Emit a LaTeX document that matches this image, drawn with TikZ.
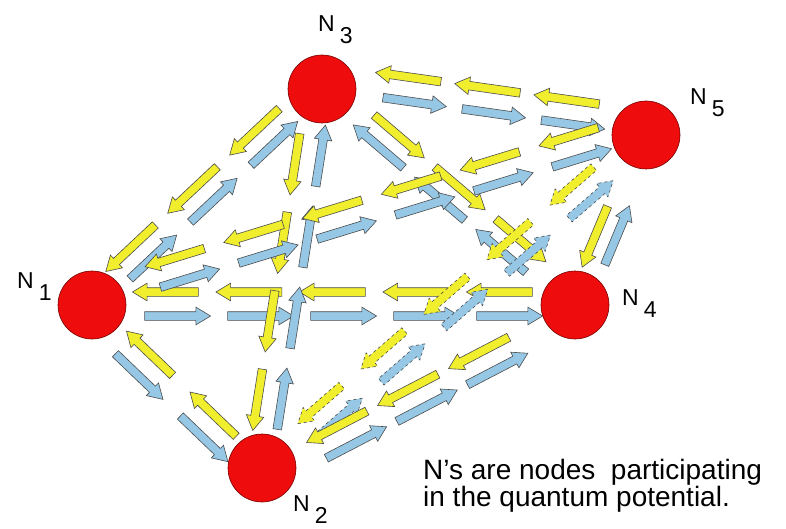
\documentclass[tikz,border=0pt]{standalone}
\usepackage{fontspec}
\setmainfont{Liberation Sans}
\usetikzlibrary{calc, shapes.arrows}

\definecolor{flowyellow}{RGB}{240,238,45}
\definecolor{flowblue}{RGB}{150,200,230}
\definecolor{nodered}{RGB}{238,12,12}

\pgfdeclarelayer{back}
\pgfsetlayers{back,main}

\tikzset{
  qnode/.style={circle, fill=nodered, draw=red!45!black, line width=0.6pt,
    minimum size=68pt, inner sep=0pt},
  qlabel/.style={anchor=base west, inner sep=0pt, font=\fontsize{23}{23}\selectfont},
  flow/.style={single arrow, draw=black!70, line width=0.6pt,
    inner xsep=0pt, inner ysep=4pt, minimum width=17pt,
    single arrow head extend=4.5pt, single arrow tip angle=62},
  yflow/.style={flow, fill=flowyellow},
  bflow/.style={flow, fill=flowblue},
  ydash/.style={yflow, dashed},
  bdash/.style={bflow, dashed},
}

\newcommand{\nsub}[1]{N\kern5pt\raisebox{-12pt}{#1}}

\begin{document}
\begin{tikzpicture}[x=1pt, y=-1pt]
    \useasboundingbox (0,0) rectangle (786,529);

    % the five nodes
    \node[qnode] (n1) at (92,305) {};
    \node[qnode] (n2) at (262,468) {};
    \node[qnode] (n3) at (322,89) {};
    \node[qnode] (n4) at (575,305) {};
    \node[qnode] (n5) at (646,135) {};

    % node names
    \node[qlabel] (l1) at (17,288) {\nsub{1}};
    \node[qlabel] (l2) at (293,511) {\nsub{2}};
    \node[qlabel] (l3) at (318,32) {\nsub{3}};
    \node[qlabel] (l4) at (622,305) {\nsub{4}};
    \node[qlabel] (l5) at (690,105) {\nsub{5}};

    % note
    \node[anchor=north west, align=left, inner sep=0pt,
          font=\fontsize{28}{26}\selectfont] (note) at (423,459)
        {N's are nodes\ \ participating\\in the quantum potential.};

    % flows: from/to/style/count/length/lead/pitch/side offset
    \begin{pgfonlayer}{back}
    \foreach \src/\dst/\col/\num/\len/\lead/\pitch/\offs in {
        n4/n1/yflow/5/66/72/83.5/-13, n1/n4/bflow/5/66/82/83/-11,
        n3/n1/yflow/3/68/75/85/-15,   n1/n3/bflow/3/64/74/83/-7,
        n2/n1/yflow/2/64/69/88/-5,    n1/n2/bflow/2/66/80/90/-19,
        n3/n2/yflow/4/62/75/79.5/-15, n2/n3/bflow/4/62/68/82/-9,
        n5/n3/yflow/3/66/80/80/-24,   n3/n5/bflow/3/64/90/80/0,
        n3/n4/yflow/3/66/86/80/14,    n4/n3/bflow/3/66/88/80.5/7,
        n5/n1/yflow/6/62/71/82.4/-21, n1/n5/bflow/6/62/98/82/-3,
        n5/n2/ydash/5/58/86/83.4/-10, n2/n5/bdash/5/58/89/83/-13,
        n5/n4/yflow/1/66/110/0/-8,    n4/n5/bflow/1/64/77/0/-12,
        n4/n2/yflow/3/68/104/80/-2,   n2/n4/bflow/3/68/92/79.6/-21}{
      \pgfmathanglebetweenpoints{\pgfpointanchor{\src}{center}}{\pgfpointanchor{\dst}{center}}
      \let\flowangle\pgfmathresult
      \foreach \k in {1,...,\num}{
        \node[\col, rotate=\flowangle, minimum height=\len pt]
          at ($(\src)!{(\lead+(\k-1)*\pitch)*1pt}!(\dst)!{\offs*1pt}!90:(\dst)$) {};
      }
    }
    \end{pgfonlayer}

\end{tikzpicture}
\end{document}
